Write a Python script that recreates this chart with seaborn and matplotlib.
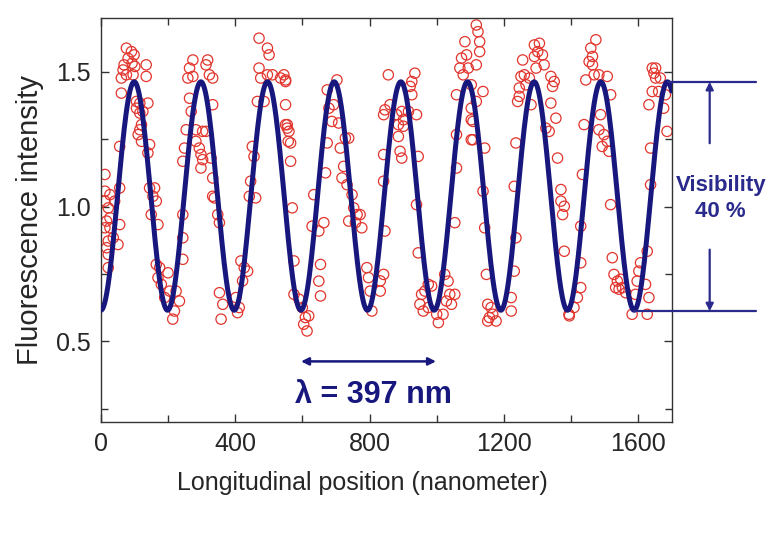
# Fluorescence fringes along the longitudinal position
import numpy as np
import pandas as pd
import seaborn as sns
import matplotlib.pyplot as plt
from matplotlib.ticker import MultipleLocator

sns.set_style("ticks")
plt.rcParams["font.family"] = ["Liberation Sans", "DejaVu Sans"]

pos_nm = [
    76, 91, 99, 81, 69, 93, 101, 135, 66, 76, 96, 135, 61, 61, 106, 116, 140, 106, 116, 125,
    121, 116, 111, 121, 145, 56, 140,
    12, 12, 27, 12, 22, 56, 41, 27, 17, 12, 27, 56, 37, 22, 51, 17, 22, 22,
    145, 160, 155, 165, 150, 170, 165, 175, 170, 200, 180, 190, 205, 224, 234, 219, 214,
    244, 244, 244, 249, 244, 254, 259, 264,
    274, 274, 318, 313, 323, 333, 264, 333, 303, 313, 283, 293, 298, 303, 298, 328, 333, 333,
    338, 348, 353, 353, 363, 358, 402, 412, 417, 427, 437, 422, 407, 442, 446, 451, 456, 461,
    471, 496, 501, 471, 476, 496, 511, 535, 466, 486, 550, 550, 555, 558, 269, 283,
    545, 550, 550, 555, 560, 565, 565, 570, 575, 575, 590, 600, 609, 604, 619, 614, 654, 649,
    654, 634, 629, 649, 664, 669, 674, 674, 679, 693, 703, 688, 708, 728, 738, 713, 723, 718,
    733, 748, 753, 763, 772, 738, 758, 777, 792, 797, 802, 807, 842, 842, 842,
    856, 846, 861, 881, 896, 901, 916, 926, 935, 921, 926, 940, 886, 901, 886, 891, 896, 945,
    940, 846, 945, 842, 832, 832, 955, 965, 975, 985, 950, 960, 975, 1000, 1005, 1019, 1029,
    1039, 1044, 1024, 1034, 1054, 1054, 1059, 1059, 1059, 1069, 1074, 1089, 1084, 1079, 1094,
    1103, 1103, 1103, 1103, 1118, 1118,
    1118, 1123, 1128, 1128, 1138, 1108, 1108, 1143, 1138, 1143, 1148, 1152, 1162, 1167, 1157,
    1177, 1152, 1222, 1222, 1231, 1236, 1231, 1236, 1241, 1246, 1251, 1256, 1261, 1266, 1276,
    1291, 1306, 1301, 1291, 1315, 1320, 1296, 1246, 1281, 1340, 1350, 1345, 1340, 1355, 1325,
    1335, 1360, 1370, 1370, 1380, 1375, 1380, 1394,
    1474, 1459, 1464, 1454, 1464, 1444, 1469, 1483, 1508, 1488, 1518, 1439, 1483, 1498, 1508,
    1493, 1513, 1434, 1518, 1429, 1429, 1429, 1419, 1409, 1395, 1523, 1528, 1538, 1533, 1543,
    1553, 1563, 1548, 1592, 1602, 1597, 1607, 1627, 1622, 1632, 1627, 1582, 1637, 1637, 1632,
    1642, 1647, 1652, 1666, 1661, 1681, 1676, 1686, 1652, 1642,
]
intensity = [
    1.588, 1.575, 1.563, 1.55, 1.526, 1.532, 1.52, 1.526, 1.507, 1.489, 1.489, 1.483, 1.477,
    1.421, 1.39, 1.384, 1.384, 1.365, 1.347, 1.353, 1.304, 1.285, 1.267, 1.242, 1.23, 1.223,
    1.199,
    1.119, 1.057, 1.044, 1.02, 0.995, 1.069, 1.02, 0.958, 0.946, 0.921, 0.921, 0.933, 0.884,
    0.872, 0.859, 0.847, 0.822, 0.773,
    1.069, 1.069, 1.038, 1.02, 0.97, 0.933, 0.785, 0.773, 0.736, 0.754, 0.711, 0.662, 0.686,
    0.686, 0.649, 0.612, 0.582,
    0.97, 0.884, 0.804, 1.217, 1.168, 1.285, 1.477, 1.514,
    1.544, 1.483, 1.544, 1.526, 1.489, 1.477, 1.402, 1.378, 1.279, 1.279, 1.242, 1.217, 1.193,
    1.174, 1.143, 1.18, 1.106, 1.038, 1.032, 0.97, 0.94, 0.68, 0.637, 0.582, 0.662, 0.625,
    0.798, 0.773, 0.76, 0.724, 0.606, 1.038, 1.094, 1.223, 1.186, 1.032, 1.625, 1.588, 1.563,
    1.514, 1.477, 1.489, 1.489, 1.477, 1.39, 1.39, 1.464, 1.304, 1.291, 1.242, 1.353, 1.285,
    1.489, 1.47, 1.378, 1.304, 1.279, 1.236, 1.168, 0.995, 0.798, 0.674, 0.656, 0.625, 0.588,
    0.563, 0.594, 0.538, 0.785, 0.723, 0.668, 1.044, 0.927, 0.909, 0.94, 1.125, 1.236, 1.433,
    1.365, 1.378, 1.47, 1.316, 1.31, 1.254, 1.254, 1.217, 1.149, 1.106, 1.081, 1.044, 0.995,
    0.97, 0.97, 0.946, 0.94, 0.921, 0.773, 0.736, 0.686, 0.612, 1.341, 1.193, 1.094,
    1.489, 1.359, 1.378, 1.341, 1.353, 1.322, 1.353, 1.464, 1.495, 1.446, 1.415, 1.341, 1.304,
    1.298, 1.26, 1.205, 1.18, 1.186, 1.007, 0.909, 0.828, 0.748, 0.724, 0.686, 0.674, 0.686,
    0.711, 0.705, 0.637, 0.612, 0.625, 0.6, 0.569, 0.6, 0.649, 0.674, 0.637, 0.748, 0.723,
    0.674, 0.94, 1.143, 1.267, 1.415, 1.514, 1.551, 1.563, 1.612, 1.489, 1.514, 1.452, 1.365,
    1.322, 1.248, 1.526, 1.39,
    1.674, 1.649, 1.612, 1.575, 1.427, 1.316, 1.248, 1.217, 1.057, 0.921, 0.748, 0.637, 0.625,
    0.6, 0.588, 0.575, 0.575, 0.662, 0.612, 0.76, 0.884, 1.075, 1.236, 1.39, 1.44, 1.483,
    1.544, 1.489, 1.452, 1.477, 1.6, 1.606, 1.575, 1.557, 1.563, 1.526, 1.514, 1.409, 1.378,
    1.483, 1.464, 1.446, 1.384, 1.328, 1.291, 1.279, 1.18, 1.063, 1.02, 1.001, 0.97, 0.834,
    0.6,
    1.619, 1.588, 1.557, 1.538, 1.526, 1.47, 1.489, 1.489, 1.483, 1.341, 1.415, 1.304, 1.285,
    1.267, 1.242, 1.223, 1.205, 1.119, 1.007, 0.927, 0.791, 0.699, 0.662, 0.625, 0.594, 0.81,
    0.748, 0.723, 0.699, 0.693, 0.699, 0.68, 0.73, 0.674, 0.76, 0.723, 0.791, 0.834, 0.711,
    0.662, 0.6, 0.6, 1.081, 1.217, 1.378, 1.427, 1.495, 1.514, 1.477, 1.427, 1.415, 1.365,
    1.279, 1.477, 1.514,
]

# Fit parameters as stated on the chart
wavelength_nm = 397
fit_max = 1.463
fit_min = 0.615

points = pd.DataFrame({"x": pos_nm, "y": intensity})
x_fit = np.linspace(0, 1700, 1200)
mean = (fit_max + fit_min) / 2
amp = (fit_max - fit_min) / 2
fit = pd.DataFrame({"x": x_fit,
                    "y": mean - amp * np.cos(2 * np.pi * x_fit / (wavelength_nm / 2))})

navy = "#17177e"
mark = "#2a2a8c"

fig = plt.figure(figsize=(7.82, 5.38), dpi=100)
ax = fig.add_axes([0.129, 0.2156, 0.730, 0.751])

sns.scatterplot(data=points, x="x", y="y", ax=ax, marker="o", s=55,
                facecolors="none", edgecolor="#e2352d", linewidth=0.9, zorder=2)
sns.lineplot(data=fit, x="x", y="y", ax=ax, color=navy, linewidth=3.6, zorder=3)

ax.set_xlim(0, 1700)
ax.set_ylim(0.2, 1.7)
ax.xaxis.set_major_locator(MultipleLocator(400))
ax.xaxis.set_minor_locator(MultipleLocator(200))
ax.yaxis.set_major_locator(MultipleLocator(0.5))
ax.yaxis.set_minor_locator(MultipleLocator(0.25))
ax.yaxis.set_major_formatter(plt.FormatStrFormatter("%.1f"))
ax.tick_params(which="both", direction="in", top=True, right=True, labelsize=18,
               color="#333333", width=1)
ax.tick_params(which="major", length=6, pad=7)
ax.tick_params(which="minor", length=5)
for s in ax.spines.values():
    s.set_color("#333333")
    s.set_linewidth(1)

ax.set_xlabel("Longitudinal position (nanometer)", fontsize=18)
ax.set_ylabel("Fluorescence intensity", fontsize=21)
ax.xaxis.set_label_coords(0.458, -0.122)
ax.yaxis.set_label_coords(-0.10, 0.5)

# wavelength arrow
ax.annotate("", xy=(596, 0.425), xytext=(998, 0.425),
            arrowprops=dict(arrowstyle="<|-|>", color=navy, lw=1.8,
                            mutation_scale=11, shrinkA=0, shrinkB=0))
ax.text(812, 0.30, "\u03bb = 397 nm", color=navy, fontsize=22, fontweight="bold",
        ha="center", va="center")

# visibility marks outside the frame
line_kw = dict(color=mark, lw=1.6, clip_on=False, zorder=4)
ax.plot([1690, 1950], [fit_max, fit_max], **line_kw)
ax.plot([1588, 1950], [fit_min - 0.004, fit_min - 0.004], **line_kw)
arrow_kw = dict(arrowstyle="-|>", color=mark, lw=1.6, mutation_scale=11,
                shrinkA=0, shrinkB=0)
ax.annotate("", xy=(1813, fit_max), xytext=(1813, 1.235),
            arrowprops=arrow_kw, annotation_clip=False)
ax.annotate("", xy=(1813, fit_min - 0.004), xytext=(1813, 0.84),
            arrowprops=arrow_kw, annotation_clip=False)
ax.text(1846, 1.03, "Visibility\n40 %", color=mark, fontsize=16,
        fontweight="bold", ha="center", va="center", linespacing=1.35, clip_on=False)

plt.savefig("out.png", dpi=100)
